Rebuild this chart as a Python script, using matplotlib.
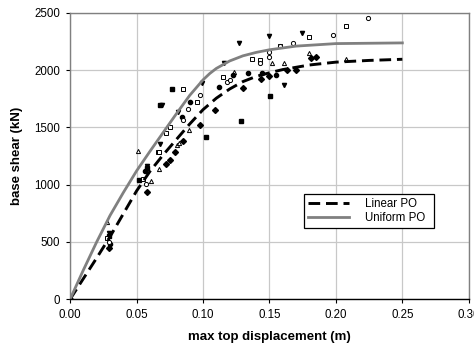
import matplotlib.pyplot as plt

plt.rcParams['font.family'] = ['Liberation Sans', 'DejaVu Sans']

# pushover curves (displacement in m, base shear in kN)
linear_x = [0.0, 0.01, 0.02, 0.03, 0.04, 0.05, 0.06, 0.07, 0.08, 0.09, 0.10,
            0.11, 0.12, 0.13, 0.14, 0.15, 0.16, 0.18, 0.20, 0.225, 0.25]
linear_y = [0, 180, 360, 545, 745, 945, 1115, 1260, 1395, 1530, 1655,
            1755, 1835, 1900, 1945, 1977, 2005, 2045, 2070, 2085, 2095]
uniform_x = [0.0, 0.01, 0.02, 0.03, 0.04, 0.05, 0.06, 0.07, 0.08, 0.09, 0.10,
             0.105, 0.11, 0.12, 0.13, 0.14, 0.15, 0.17, 0.20, 0.25]
uniform_y = [0, 255, 500, 730, 930, 1120, 1290, 1455, 1620, 1780, 1915,
             1970, 2015, 2080, 2125, 2155, 2178, 2210, 2232, 2238]

# time-history maxima, one list pair per record marker
fsq_x = [0.0289, 0.0515, 0.058, 0.0678, 0.0766, 0.1024, 0.1285, 0.1506]
fsq_y = [550, 1040, 1142, 1696, 1833, 1413, 1558, 1774]
osq_x = [0.028, 0.0547, 0.066, 0.0665, 0.0723, 0.0748, 0.0848, 0.0954, 0.115,
         0.1368, 0.1426, 0.158, 0.180, 0.2078]
osq_y = [530, 1046, 1282, 1287, 1448, 1506, 1833, 1725, 1943,
         2095, 2090, 2211, 2287, 2386]
ftri_x = [0.0294, 0.058, 0.0678, 0.069, 0.0808, 0.099, 0.1155, 0.1268, 0.150,
          0.1745, 0.161]
ftri_y = [577, 1160, 1355, 1696, 1637, 1885, 2065, 2240, 2299, 2328, 1870]
otri_x = [0.0276, 0.0607, 0.051, 0.067, 0.0806, 0.0816, 0.0898, 0.1235, 0.152,
          0.1606, 0.180, 0.2078]
otri_y = [676, 1031, 1296, 1136, 1346, 1361, 1477, 1984, 2060,
          2065, 2147, 2100]
fcir_x = [0.030, 0.056, 0.084, 0.0904, 0.1117, 0.1225, 0.1335, 0.1443, 0.155]
fcir_y = [480, 1120, 1594, 1725, 1856, 1958, 1978, 1978, 1960]
ocir_x = [0.0296, 0.057, 0.0848, 0.089, 0.0979, 0.118, 0.120, 0.1426, 0.150,
          0.150, 0.158, 0.1677, 0.198, 0.224]
ocir_y = [501, 1005, 1565, 1658, 1783, 1900, 1914, 2060, 2118,
          2162, 2214, 2235, 2307, 2453]
fdia_x = [0.0, 0.0296, 0.0577, 0.0723, 0.0753, 0.079, 0.0853, 0.098, 0.109,
          0.130, 0.1436, 0.150, 0.163, 0.170, 0.181, 0.185]
fdia_y = [0, 443, 938, 1180, 1215, 1287, 1384, 1521, 1652,
          1841, 1920, 1950, 2001, 2001, 2104, 2112]

x_ticks = [0.0, 0.05, 0.10, 0.15, 0.20, 0.25, 0.30]
y_ticks = [0, 500, 1000, 1500, 2000, 2500]

fig = plt.figure(figsize=(4.74, 3.49), dpi=100)
ax = fig.add_axes([0.148, 0.143, 0.841, 0.820])

ax.grid(True, color='#c8c8c8', lw=0.9)
ax.set_axisbelow(True)

ms = 3
ax.plot(fsq_x, fsq_y, 's', color='black', ms=ms, ls='none')
ax.plot(osq_x, osq_y, 's', mfc='white', mec='black', mew=0.7, ms=ms, ls='none')
ax.plot(ftri_x, ftri_y, 'v', color='black', ms=ms, ls='none')
ax.plot(otri_x, otri_y, '^', mfc='white', mec='black', mew=0.7, ms=ms, ls='none')
ax.plot(fcir_x, fcir_y, 'o', color='black', ms=ms, ls='none')
ax.plot(ocir_x, ocir_y, 'o', mfc='white', mec='black', mew=0.7, ms=ms, ls='none')
ax.plot(fdia_x, fdia_y, 'D', color='black', ms=ms, ls='none')

ax.plot(linear_x, linear_y, color='black', lw=2.1, dashes=(4, 2),
        label='Linear PO')
ax.plot(uniform_x, uniform_y, color='#808080', lw=2.0, label='Uniform PO')

ax.set_xlim(0, 0.30)
ax.set_ylim(0, 2500)
ax.set_xticks(x_ticks)
ax.set_yticks(y_ticks)
ax.set_xticklabels([f'{v:.2f}' for v in x_ticks])
ax.tick_params(labelsize=8.3, length=3, width=0.8, direction='out',
               colors='black', pad=4)

for side in ['left', 'top', 'right']:
    ax.spines[side].set_color('#808080')
    ax.spines[side].set_linewidth(1.0)
ax.spines['bottom'].set_color('black')
ax.spines['bottom'].set_linewidth(1.0)

ax.set_xlabel('max top displacement (m)', fontsize=9.5, fontweight='bold',
              labelpad=7)
ax.set_ylabel('base shear (kN)', fontsize=9.5, fontweight='bold', labelpad=8)

leg = ax.legend(loc='lower left', bbox_to_anchor=(0.571, 0.227, 0.356, 0.147),
                mode='expand', fontsize=8.3, fancybox=False, framealpha=1,
                edgecolor='black', handlelength=3.6, handletextpad=1.4,
                borderpad=0.35, labelspacing=0.2)
leg.get_frame().set_linewidth(0.9)

fig.savefig('out.png', dpi=100)
